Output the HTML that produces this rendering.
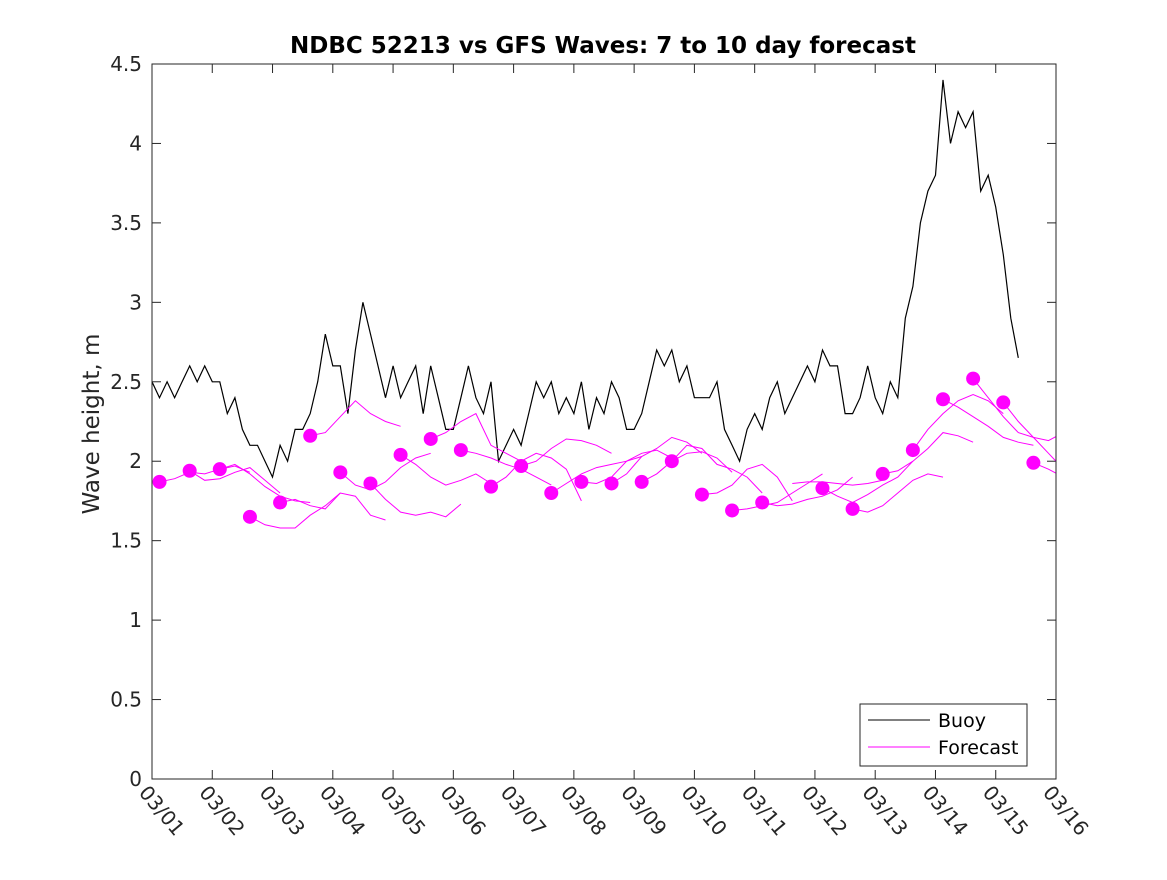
<!DOCTYPE html>
<html><head><meta charset="utf-8"><style>
body{margin:0;background:#fff;}
svg text{font-family:"DejaVu Sans","Liberation Sans",sans-serif;}
</style></head><body>
<svg id="c" width="1167" height="875" xmlns="http://www.w3.org/2000/svg">
<rect width="1167" height="875" fill="#fff"/>
<defs><clipPath id="pc"><rect x="152" y="64" width="904" height="715"/></clipPath></defs>
<g id="grid"></g>
<g id="series" clip-path="url(#pc)"></g>
<rect x="152" y="64" width="904" height="715" fill="none" stroke="#262626" stroke-width="1"/>
<text x="603" y="53" text-anchor="middle" font-size="23" font-weight="bold" fill="#000">NDBC 52213 vs GFS Waves: 7 to 10 day forecast</text>
<text transform="translate(99,424) rotate(-90)" text-anchor="middle" font-size="23" fill="#262626">Wave height, m</text>
<g>
<rect x="860" y="704" width="167" height="62" fill="#fff" stroke="#262626"/>
<line x1="868" y1="720" x2="930" y2="720" stroke="#000"/>
<text x="938" y="727" font-size="19" fill="#000">Buoy</text>
<line x1="868" y1="747" x2="930" y2="747" stroke="#f0f"/>
<text x="938" y="754" font-size="19" fill="#000">Forecast</text>
</g>
</svg>
<script>
const yTicks=[0,0.5,1,1.5,2,2.5,3,3.5,4,4.5];
const xTickLabels=["03/01","03/02","03/03","03/04","03/05","03/06","03/07","03/08","03/09","03/10","03/11","03/12","03/13","03/14","03/15","03/16"];
const buoyStep=0.125;
const buoy=[2.5,2.4,2.5,2.4,2.5,2.6,2.5,2.6,
2.5,2.5,2.3,2.4,2.2,2.1,2.1,2.0,
1.9,2.1,2.0,2.2,2.2,2.3,2.5,2.8,
2.6,2.6,2.3,2.7,3.0,2.8,2.6,2.4,
2.6,2.4,2.5,2.6,2.3,2.6,2.4,2.2,
2.2,2.4,2.6,2.4,2.3,2.5,2.0,2.1,
2.2,2.1,2.3,2.5,2.4,2.5,2.3,2.4,
2.3,2.5,2.2,2.4,2.3,2.5,2.4,2.2,
2.2,2.3,2.5,2.7,2.6,2.7,2.5,2.6,
2.4,2.4,2.4,2.5,2.2,2.1,2.0,2.2,
2.3,2.2,2.4,2.5,2.3,2.4,2.5,2.6,
2.5,2.7,2.6,2.6,2.3,2.3,2.4,2.6,
2.4,2.3,2.5,2.4,2.9,3.1,3.5,3.7,
3.8,4.4,4.0,4.2,4.1,4.2,3.7,3.8,
3.6,3.3,2.9,2.65];
const fcStarts=[0.125,0.625,1.125,1.625,2.125,2.625,3.125,3.625,4.125,4.625,5.125,5.625,6.125,6.625,7.125,7.625,8.125,8.625,9.125,9.625,10.125,10.625,11.125,11.625,12.125,12.625,13.125,13.625,14.125,14.625];
const fcHasDot=[1,1,1,1,1,1,1,1,1,1,1,1,1,1,1,1,1,1,1,1,1,0,1,1,1,1,1,1,1,1];
const fcValues=[
[1.87,1.89,1.93,1.92,1.95,1.97,1.93],
[1.94,1.88,1.89,1.93,1.96,1.88,1.80],
[1.95,1.98,1.92,1.84,1.78,1.75,1.74],
[1.65,1.60,1.58,1.58,1.66,1.72,1.80],
[1.74,1.76,1.72,1.70,1.80,1.78,1.66,1.63],
[2.16,2.18,2.28,2.38,2.30,2.25,2.22],
[1.93,1.85,1.82,1.87,1.96,2.02,2.05],
[1.86,1.76,1.68,1.66,1.68,1.65,1.73],
[2.04,1.98,1.90,1.85,1.88,1.92,1.86],
[2.14,2.18,2.25,2.30,2.10,2.05,2.00],
[2.07,2.05,2.02,1.98,1.95,1.90,1.85],
[1.84,1.90,2.00,2.05,2.02,1.95,1.75],
[1.97,2.00,2.08,2.14,2.13,2.10,2.05],
[1.80,1.86,1.92,1.96,1.98,2.00,2.03],
[1.87,1.86,1.90,2.00,2.05,2.07,2.02],
[1.86,1.92,2.03,2.08,2.15,2.12,2.05],
[1.87,1.92,2.00,2.05,2.06,2.02,1.93],
[2.00,2.10,2.08,1.98,1.95,1.90,1.80],
[1.79,1.80,1.85,1.95,1.98,1.90,1.75],
[1.69,1.70,1.72,1.74,1.80,1.86,1.92],
[1.74,1.72,1.73,1.76,1.78,1.82,1.90],
[1.86,1.87,1.87,1.86,1.85,1.86,1.88],
[1.83,1.78,1.74,1.79,1.85,1.90,2.00],
[1.70,1.68,1.72,1.80,1.88,1.92,1.90],
[1.92,1.94,2.00,2.08,2.18,2.16,2.12],
[2.07,2.20,2.30,2.38,2.42,2.38,2.30],
[2.39,2.34,2.28,2.22,2.15,2.12,2.10],
[2.52,2.40,2.28,2.18,2.15,2.13,2.18],
[2.37,2.25,2.15,2.05,1.95,1.88,1.80],
[1.99,1.95,1.90,1.88]];
const fcStep=0.25;
const X0=152,X1=1056,Y0=779,Y1=64;
const xs=d=>X0+d/15*(X1-X0);
const ys=v=>Y0-v/4.5*(Y0-Y1);
const NS="http://www.w3.org/2000/svg";
const grid=document.getElementById('grid'),ser=document.getElementById('series');
function mk(tag,attrs,parent){const e=document.createElementNS(NS,tag);for(const k in attrs)e.setAttribute(k,attrs[k]);parent.appendChild(e);return e;}
yTicks.forEach(v=>{
 const y=ys(v);
 const t1=mk('line',{x1:X0,y1:y,x2:X0+9,y2:y,stroke:'#262626'},grid);
 
 
 mk('line',{x1:X1,y1:y,x2:X1-9,y2:y,stroke:'#262626'},grid);
 const t=mk('text',{x:X0-10,y:y+7,'text-anchor':'end','font-size':20,fill:'#262626'},grid);
 t.textContent=String(v);
 
 
});
xTickLabels.forEach((s,i)=>{
 const x=xs(i);
 mk('line',{x1:x,y1:Y0,x2:x,y2:Y0-9,stroke:'#262626'},grid);
 mk('line',{x1:x,y1:Y1,x2:x,y2:Y1+9,stroke:'#262626'},grid);
 const t=mk('text',{x:0,y:0,'font-size':20,fill:'#262626',transform:`translate(${x-14},${Y0+14}) rotate(50)`},grid);
 t.textContent=s;
 
 
});
const bp=mk('path',{d:buoy.map((v,i)=>(i?'L':'M')+xs(i*buoyStep).toFixed(1)+','+ys(v).toFixed(1)).join(''),fill:'none',stroke:'#000','stroke-width':1.2},ser);


fcValues.forEach((arr,k)=>{
 const s=fcStarts[k];
 const p=mk('path',{d:arr.map((v,i)=>(i?'L':'M')+xs(s+i*fcStep).toFixed(1)+','+ys(v).toFixed(1)).join(''),fill:'none',stroke:'#f0f','stroke-width':1},ser);
 
 
 if(fcHasDot[k]){
  const c=mk('circle',{cx:xs(s),cy:ys(arr[0]),r:7,fill:'#f0f'},ser);
  
  
 }
});
</script>
</body></html>
